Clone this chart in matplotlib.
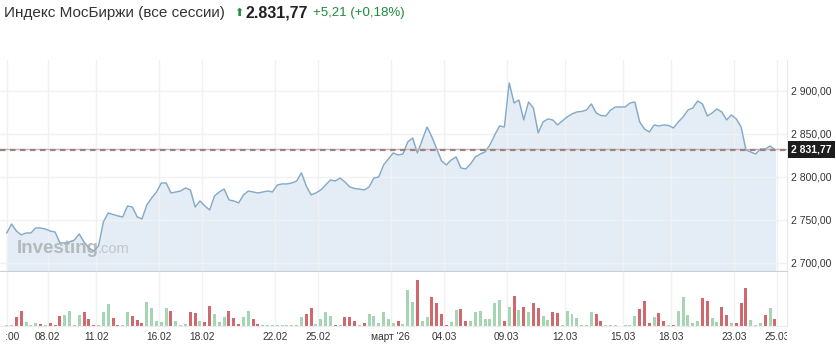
import numpy as np
import matplotlib.pyplot as plt
from matplotlib.ticker import FuncFormatter
from matplotlib.transforms import Bbox, TransformedBbox, blended_transform_factory

plt.rcParams['font.family'] = ['Liberation Sans', 'DejaVu Sans']

# index close, one point per volume bar
price = [
    2734.9, 2745.3, 2737.2, 2732.6, 2734.9, 2734.9, 2740.7, 2740.7, 2739.5, 2737.2,
    2736.0, 2723.3, 2723.3, 2724.4, 2726.7, 2733.7, 2724.4, 2717.4, 2714.0, 2719.8,
    2747.7, 2758.1, 2756.4, 2754.7, 2753.5, 2766.3, 2765.1, 2753.5, 2751.2, 2767.4,
    2775.6, 2782.6, 2793.0, 2793.0, 2781.4, 2782.6, 2783.7, 2787.2, 2784.9, 2765.1,
    2772.1, 2766.3, 2761.6, 2777.9, 2782.6, 2786.0, 2773.3, 2772.1, 2769.8, 2779.1,
    2783.7, 2782.6, 2781.4, 2782.6, 2783.7, 2782.6, 2790.7, 2791.9, 2791.9, 2793.0,
    2795.3, 2804.7, 2789.5, 2779.1, 2781.4, 2784.9, 2790.7, 2796.5, 2795.3, 2798.8,
    2794.2, 2788.4, 2786.6, 2786.0, 2784.9, 2788.4, 2798.8, 2800.0, 2814.0, 2820.9,
    2827.9, 2825.6, 2826.7, 2840.7, 2845.3, 2827.9, 2843.0, 2858.1, 2846.5, 2832.6,
    2818.6, 2814.0, 2819.8, 2823.3, 2810.5, 2809.3, 2815.1, 2823.3, 2826.7, 2829.1,
    2837.2, 2848.8, 2859.3, 2858.1, 2909.3, 2886.0, 2889.5, 2866.3, 2887.2, 2880.2,
    2851.2, 2864.0, 2867.4, 2866.3, 2860.5, 2865.1, 2869.8, 2873.3, 2875.6, 2876.2,
    2877.9, 2884.9, 2874.4, 2871.5, 2870.9, 2877.9, 2881.4, 2881.4, 2881.4, 2886.0,
    2887.2, 2864.0, 2855.8, 2852.3, 2860.5, 2859.3, 2860.5, 2859.9, 2857.0, 2864.0,
    2869.8, 2877.9, 2880.2, 2888.4, 2884.9, 2870.9, 2874.4, 2879.1, 2875.6, 2866.3,
    2872.1, 2867.4, 2858.1, 2831.4, 2829.1, 2826.7, 2832.6, 2832.6, 2836.0, 2831.77,
]

# volume (relative units)
volume = [
    2, 2, 25, 44, 12, 3, 8, 6, 2, 10,
    3, 30, 32, 44, 3, 32, 42, 20, 2, 3,
    40, 65, 23, 2, 2, 42, 28, 17, 10, 70,
    52, 15, 12, 52, 45, 15, 2, 7, 42, 37,
    14, 12, 58, 34, 12, 25, 44, 24, 7, 25,
    44, 20, 7, 2, 2, 2, 4, 2, 2, 3,
    3, 27, 36, 52, 5, 20, 42, 28, 4, 2,
    27, 25, 15, 2, 8, 34, 30, 10, 40, 20,
    8, 15, 5, 104, 70, 135, 15, 25, 84, 68,
    35, 4, 12, 48, 51, 15, 15, 42, 43, 20,
    20, 68, 77, 15, 57, 89, 48, 57, 42, 68,
    54, 30, 19, 42, 37, 4, 44, 34, 22, 3,
    3, 40, 36, 15, 2, 2, 2, 1, 2, 2,
    30, 51, 72, 10, 27, 37, 16, 3, 4, 44,
    85, 33, 10, 15, 82, 72, 23, 11, 56, 32,
    10, 8, 66, 111, 19, 3, 8, 32, 53, 20,
]

# u = up bar (green), d = down bar (red)
direction = list(
    "uudduuudud" "dduuuudddu" "uudduudddu" "uuuuduuudd"
    "udduuudddu" "udduuuuuuu" "uudduuuudu" "ddduduuuuu"
    "uduuuduudd" "dduudduuuu" "uuudududud" "duudduuuuu"
    "uudduuuuuu" "uddduddudu" "uuuudduudd" "uddduuudud"
)

tick_labels = ["10:00", "08.02", "11.02", "16.02", "18.02", "22.02", "25.02",
               "март '26", "04.03", "09.03", "12.03", "15.03", "18.03", "23.03", "25.03"]
tick_pos = [0, 8.5, 18.5, 31.5, 40.5, 55.5, 64.5, 79.5, 90.5, 103.5,
            115.5, 127.5, 137.5, 150.5, 159.5]

title = "Индекс МосБиржи (все сессии)"
last_price = 2831.77
last_text = "2.831,77"
change_text = "+5,21 (+0,18%)"

W, H = 836, 344
fig = plt.figure(figsize=(W / 100, H / 100), dpi=100)


def px_rect(x0, y0, x1, y1):
    return [x0 / W, 1 - y1 / H, (x1 - x0) / W, (y1 - y0) / H]


ax = fig.add_axes(px_rect(0, 60, 787, 272))
axv = fig.add_axes(px_rect(0, 272, 787, 326), sharex=ax)

x = np.arange(len(price))

# price area
ax.fill_between(x, price, 2600, color='#e4edf5', zorder=1)
ax.plot(x, price, color='#84a9c6', lw=1, zorder=2)
ax.set_ylim(2689.5, 2936)
ax.set_xlim(-1.39, 161.5)
ax.set_yticks([2700, 2750, 2800, 2850, 2900])
ax.yaxis.tick_right()
ax.yaxis.set_major_formatter(FuncFormatter(
    lambda v, p: f"{v:,.2f}".replace(',', ' ').replace('.', ',')))
ax.tick_params(axis='y', length=0, pad=3, labelsize=7.5, labelcolor='#333333')
ax.tick_params(axis='x', length=0, labelbottom=False)
ax.set_xticks(tick_pos)
ax.grid(True, color='#f0f1f3', lw=1, zorder=0)
for s in ['top', 'left']:
    ax.spines[s].set_visible(False)
ax.spines['bottom'].set_color('#c8d0d8')
ax.spines['bottom'].set_linewidth(1.6)
ax.spines['right'].set_color('#e8e8e8')

# last price lines and label
trans = blended_transform_factory(ax.transAxes, ax.transData)
ax.plot([0, 1.0], [last_price + 1.3, last_price + 1.3], transform=trans,
        color='#e2a4a4', lw=1, zorder=3)
ax.plot([0, 1.005], [last_price, last_price], transform=trans, color='#8a8a8a',
        lw=1.6, ls=(0, (2.5, 2)), zorder=3, clip_on=False)
ax.text(1.005, last_price, "2 831,77", transform=trans, va='center', ha='left',
        fontsize=7.5, fontweight='bold', color='white',
        bbox=dict(facecolor='#1c1c1c', edgecolor='none', pad=2.4), zorder=5)

# watermark
ax.text(17 / 787, 0.088, "Investing", transform=ax.transAxes, fontsize=13.5,
        fontweight='bold', color='#a8acb0', alpha=0.8, va='baseline', zorder=4)
ax.text(98 / 787, 0.088, ".com", transform=ax.transAxes, fontsize=10.5,
        color='#b8bcc0', alpha=0.8, va='baseline', zorder=4)

# volume bars
colors = ['#a5d5b3' if d == 'u' else '#d0686d' for d in direction]
axv.bar(x, volume, width=0.62, color=colors, zorder=2)
axv.set_ylim(0, 158)
axv.set_yticks([])
axv.set_xticks(tick_pos, labels=tick_labels)
axv.tick_params(axis='x', length=0, pad=4, labelsize=7.3, labelcolor='#333333')
axv.grid(True, axis='x', color='#f0f1f3', lw=1, zorder=0)
for s in ['top', 'left']:
    axv.spines[s].set_visible(False)
axv.spines['bottom'].set_color('#ececec')
axv.spines['right'].set_color('#e8e8e8')

clip = TransformedBbox(Bbox([[4.5 / W, 0], [787 / W, 1]]), fig.transFigure)
for lbl in axv.get_xticklabels():
    lbl.set_clip_box(clip)
    lbl.set_clip_on(True)

# header
ty = 1 - 13 / H
fig.text(4 / W, ty, title, fontsize=11, color='#333333', va='center')
fig.text(234 / W, ty, "⬆", fontsize=8, color='#1f8a3e', va='center',
         family=['DejaVu Sans'])
fig.text(246 / W, ty, last_text, fontsize=11.5, fontweight='bold', color='#222222',
         va='center')
fig.text(313 / W, ty, change_text, fontsize=9.5, color='#1f8a3e', va='center')

fig.savefig('out.png', dpi=100)
